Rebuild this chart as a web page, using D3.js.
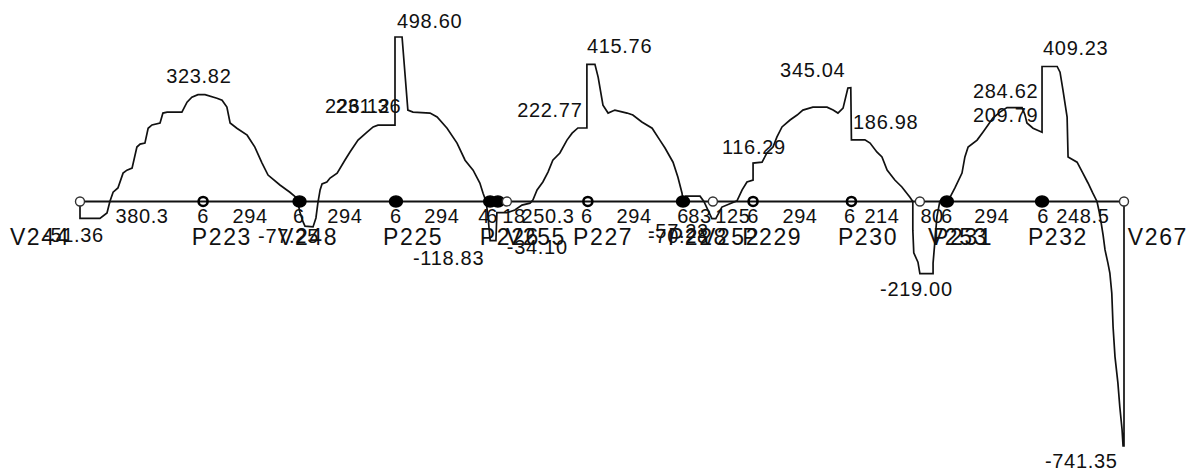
<!DOCTYPE html>
<html>
<head>
<meta charset="utf-8">
<script src="https://cdn.jsdelivr.net/npm/d3@7"></script>
<style>
   body { margin: 0; background: #fff; }
   text { font-family: "Liberation Sans", Arial, sans-serif; fill: #111; }
</style>
</head>
<body>
<script>
"use strict"

// nodes along the beam (station in beam units)
const node_names = ['V244', 'P223', 'V248', 'P225', 'P226', '', 'V255', 'P227', 'P228', 'V252', 'P229', 'P230', 'V253', 'P231', 'P232', 'V267']
const node_stations = [0, 383, 683, 983, 1276, 1300, 1328, 1580, 1876, 1969, 2094, 2400, 2613, 2697, 2993, 3248]
const node_kinds = ['v', 'c', 'b', 'b', 'b', 'b', 'v', 'c', 'b', 'v', 'c', 'c', 'v', 'b', 'b', 'v']
// where each node name starts (station)
const node_label_at = [-218, 348, 616, 943, 1244, 0, 1325, 1534, 1829, 1929, 2060, 2358, 2638, 2654, 2949, 3260]

// segment lengths written under the axis
const seg_labels = ['380.3', '6', '294', '6', '294', '6', '294', '4', '6', '18', '250.3', '6', '294', '6', '83', '125', '6', '294', '6', '214', '80', '6', '294', '6', '248.5']
const seg_at = [193, 383, 529, 681, 824, 983, 1126, 1257, 1282, 1350, 1456, 1577, 1724, 1876, 1929, 2031, 2094, 2240, 2395, 2495, 2651, 2697, 2837, 2996, 3120]

// bending moment diagram [station, moment]
const moment_diagram = [
   [0, 0], [0, -51.36], [62, -51.36], [84, -35], [93, 0], [103, 28], [118, 41], [134, 86], [146, 95],
   [162, 101], [177, 165], [187, 174], [202, 177], [212, 222], [224, 232], [249, 238], [258, 268],
   [271, 271], [317, 271], [333, 301], [348, 316], [367, 323.82], [389, 323.82], [426, 313], [442, 307],
   [457, 286], [467, 238], [488, 222], [520, 201], [544, 165], [566, 117], [585, 80], [622, 50],
   [653, 28], [675, 10], [684, -32], [694, -62], [700, -75], [725, -77.25], [734, -50], [740, -5],
   [747, 35], [753, 53], [768, 59], [778, 71], [800, 86], [824, 125], [840, 150], [865, 186],
   [893, 210], [912, 226.12], [927, 231.36], [980, 231.36], [980, 498.6], [1002, 498.6], [1020, 277],
   [1036, 271], [1089, 268], [1111, 256], [1142, 222], [1173, 177], [1198, 125], [1223, 95],
   [1244, 56], [1254, 25], [1263, 1], [1269, -41], [1276, -118.83], [1294, -118.83], [1297, -34.1],
   [1328, -34.1], [1353, -26], [1375, -11], [1400, -5], [1409, 4], [1422, 35], [1440, 59], [1456, 89],
   [1471, 125], [1493, 147], [1515, 186], [1531, 207], [1549, 222.77], [1577, 222.77], [1577, 415.76],
   [1602, 415.76], [1612, 377], [1627, 292], [1643, 268], [1664, 277], [1702, 268], [1720, 262],
   [1748, 241], [1780, 222], [1804, 186], [1820, 162], [1845, 119], [1860, 74], [1873, 25], [1876, 0],
   [1885, 16], [1929, 16], [1941, 0], [1966, -52], [1978, -52], [1997, -17], [2044, 2], [2060, 35],
   [2075, 59], [2094, 65], [2094, 116.29], [2122, 119], [2137, 147], [2156, 165], [2168, 195],
   [2184, 226], [2209, 247], [2231, 262], [2249, 277], [2280, 286], [2324, 286], [2343, 277],
   [2358, 268], [2374, 283], [2389, 344], [2398, 345.04], [2400, 186.98], [2442, 186.98], [2458, 177],
   [2479, 150], [2495, 135], [2511, 95], [2535, 65], [2557, 44], [2582, 13], [2591, 0], [2591, -87],
   [2594, -156], [2607, -184], [2613, -219], [2654, -219], [2654, -187], [2660, -117], [2666, -47],
   [2675, 0], [2697, -2], [2707, 13], [2722, 41], [2744, 86], [2753, 135], [2763, 165], [2791, 186],
   [2809, 210], [2825, 232], [2840, 253], [2862, 271], [2884, 284.62], [2931, 284.62], [2940, 262],
   [2946, 238], [2965, 222], [2993, 209.79], [2993, 409.23], [3040, 409.23], [3049, 392], [3058, 338],
   [3071, 256], [3074, 135], [3102, 119], [3120, 86], [3136, 56], [3151, 25], [3164, 0], [3173, -41],
   [3183, -102], [3189, -147], [3198, -187], [3204, -217], [3210, -278], [3214, -380], [3220, -471],
   [3229, -550], [3235, -623], [3242, -692], [3245, -741.35], [3248, -741.35], [3248, 0]
]

// value labels: text, station of left edge, moment level of baseline
const value_texts = ['323.82', '498.60', '226.12', '231.36', '222.77', '415.76', '116.29', '345.04', '186.98', '284.62', '209.79', '409.23', '-219.00', '-741.35', '-51.36', '-77.25', '-118.83', '-34.10', '-57.22', '-70.28']
const value_at = [268, 986, 762, 796, 1360, 1577, 1997, 2178, 2405, 2778, 2778, 2996, 2489, 3002, -115, 554, 1036, 1328, 1767, 1767]
const value_level = [359, 526, 268, 268, 256, 450, 144, 377, 219, 313, 241, 444, -286, -808, -123, -126, -193, -160, -111, -126]

const w = 1203
const h = 473

const x_scale = d3.scaleLinear([0, 3248], [80, 1124])
const y_scale = d3.scaleLinear([-741.35, 498.6], [446, 37])

let svg = d3.select('body')
   .append('svg')
      .attr('width', w)
      .attr('height', h)

// beam axis
svg.append('line')
   .attr('x1', x_scale(0))
   .attr('x2', x_scale(3248))
   .attr('y1', y_scale(0))
   .attr('y2', y_scale(0))
   .attr('stroke', '#111')
   .attr('stroke-width', 2)

const line = d3.line()
   .x(d => x_scale(d[0]))
   .y(d => y_scale(d[1]))

svg.append('path')
   .datum(moment_diagram)
   .attr('d', line)
   .attr('fill', 'none')
   .attr('stroke', '#111')
   .attr('stroke-width', 1.7)

// nodes
svg.selectAll('.node')
   .data(node_stations)
   .enter()
   .append('ellipse')
      .attr('class', 'node')
      .attr('cx', d => x_scale(d))
      .attr('cy', y_scale(0))
      .attr('rx', (d, i) => node_kinds[i] == 'b' ? 6.5 : 4.5)
      .attr('ry', (d, i) => node_kinds[i] == 'b' ? 5.5 : 4.5)
      .attr('fill', (d, i) => node_kinds[i] == 'b' ? '#000' : node_kinds[i] == 'v' ? '#fff' : 'none')
      .attr('stroke', (d, i) => node_kinds[i] == 'v' ? '#333' : '#000')
      .attr('stroke-width', (d, i) => node_kinds[i] == 'c' ? 2.6 : 1.4)

svg.selectAll('.seg')
   .data(seg_labels)
   .enter()
   .append('text')
      .attr('class', 'seg')
      .attr('x', (d, i) => x_scale(seg_at[i]))
      .attr('y', y_scale(0) + 22)
      .attr('text-anchor', 'middle')
      .attr('font-size', 20)
      .attr('letter-spacing', 0.6)
      .text(d => d)

svg.selectAll('.name')
   .data(node_names)
   .enter()
   .append('text')
      .attr('class', 'name')
      .attr('x', (d, i) => x_scale(node_label_at[i]))
      .attr('y', y_scale(0) + 44)
      .attr('font-size', 23)
      .attr('letter-spacing', 1.6)
      .text(d => d)

svg.selectAll('.val')
   .data(value_texts)
   .enter()
   .append('text')
      .attr('class', 'val')
      .attr('x', (d, i) => x_scale(value_at[i]))
      .attr('y', (d, i) => y_scale(value_level[i]))
      .attr('font-size', 20)
      .attr('letter-spacing', 0.7)
      .text(d => d)
</script>
</body>
</html>
